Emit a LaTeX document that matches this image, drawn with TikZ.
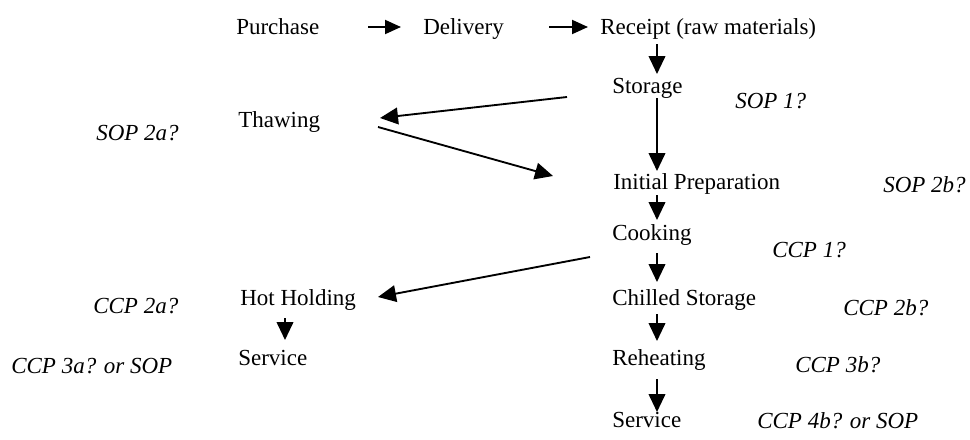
\documentclass[tikz,border=0pt]{standalone}
\usepackage{fontspec}
\setmainfont{Liberation Serif}
\usetikzlibrary{arrows.meta,calc}
\begin{document}
\begin{tikzpicture}[x=0.75pt,y=-0.75pt,
  stage/.style={anchor=base west,inner sep=0pt,font=\fontsize{17.25}{20}\selectfont},
  ctrl/.style={anchor=base west,inner sep=0pt,font=\fontsize{17.25}{20}\selectfont\itshape},
  flow/.style={line width=1.4pt,-{Triangle[length=13.5pt,width=12.5pt]}},
  side/.style={line width=1.4pt,-{Triangle[length=12pt,width=10.5pt]}}]
\useasboundingbox (0,0) rectangle (970,439);

% process stages
\node[stage] (purchase) at (236,34) {Purchase};
\node[stage] (delivery) at (423,34) {Delivery};
\node[stage] (receipt)  at (600,34) {Receipt (raw materials)};
\node[stage] (storage)  at (612,93) {Storage};
\node[stage] (thawing)  at (238,127) {Thawing};
\node[stage] (prep)     at (613,189) {Initial Preparation};
\node[stage] (cooking)  at (612,240) {Cooking};
\node[stage] (chilled)  at (612,305) {Chilled Storage};
\node[stage] (hot)      at (240,305) {Hot Holding};
\node[stage] (serviceL) at (238,365) {Service};
\node[stage] (reheat)   at (612,365) {Reheating};
\node[stage] (serviceR) at (612,427) {Service};

% control points
\node[ctrl] (sop1)  at (735,108) {SOP 1?};
\node[ctrl] (sop2a) at (96,140) {SOP 2a?};
\node[ctrl] (sop2b) at (883,192) {SOP 2b?};
\node[ctrl] (ccp1)  at (772,257) {CCP 1?};
\node[ctrl] (ccp2a) at (93,313) {CCP 2a?};
\node[ctrl] (ccp2b) at (843,315) {CCP 2b?};
\node[ctrl] (ccp3a) at (11,373) {CCP 3a? or SOP};
\node[ctrl] (ccp3b) at (795,372) {CCP 3b?};
\node[ctrl] (ccp4b) at (757,428) {CCP 4b? or SOP};

% top row
\draw[side] ($(purchase.base west)+(132,-7)$) -- ($(delivery.base west)+(-22,-7)$);
\draw[side] ($(delivery.base west)+(126,-7)$) -- ($(receipt.base west)+(-12,-7)$);

% main column
\draw[flow] ($(receipt.base west)+(57,10)$) -- ($(storage.base west)+(45,-19)$);
\draw[flow] ($(storage.base west)+(45,5)$) -- ($(prep.base west)+(44,-18)$);
\draw[flow] ($(prep.base west)+(44,6)$) -- ($(cooking.base west)+(45,-20)$);
\draw[flow] ($(cooking.base west)+(45,13)$) -- ($(chilled.base west)+(45,-23)$);
\draw[flow] ($(chilled.base west)+(45,9)$) -- ($(reheat.base west)+(45,-24)$);
\draw[flow] ($(reheat.base west)+(45,14)$) -- ($(serviceR.base west)+(45,-15)$);

% thawing branch
\draw[flow] ($(storage.base west)+(-45,4)$) -- ($(thawing.base west)+(142,-9)$);
\draw[flow] ($(thawing.base west)+(140,0)$) -- ($(prep.base west)+(-60,-13)$);

% hot holding branch
\draw[flow] ($(cooking.base west)+(-22,17)$) -- ($(hot.base west)+(138,-8)$);
\draw[flow] ($(hot.base west)+(45,13)$) -- ($(serviceL.base west)+(47,-25)$);
\end{tikzpicture}
\end{document}
